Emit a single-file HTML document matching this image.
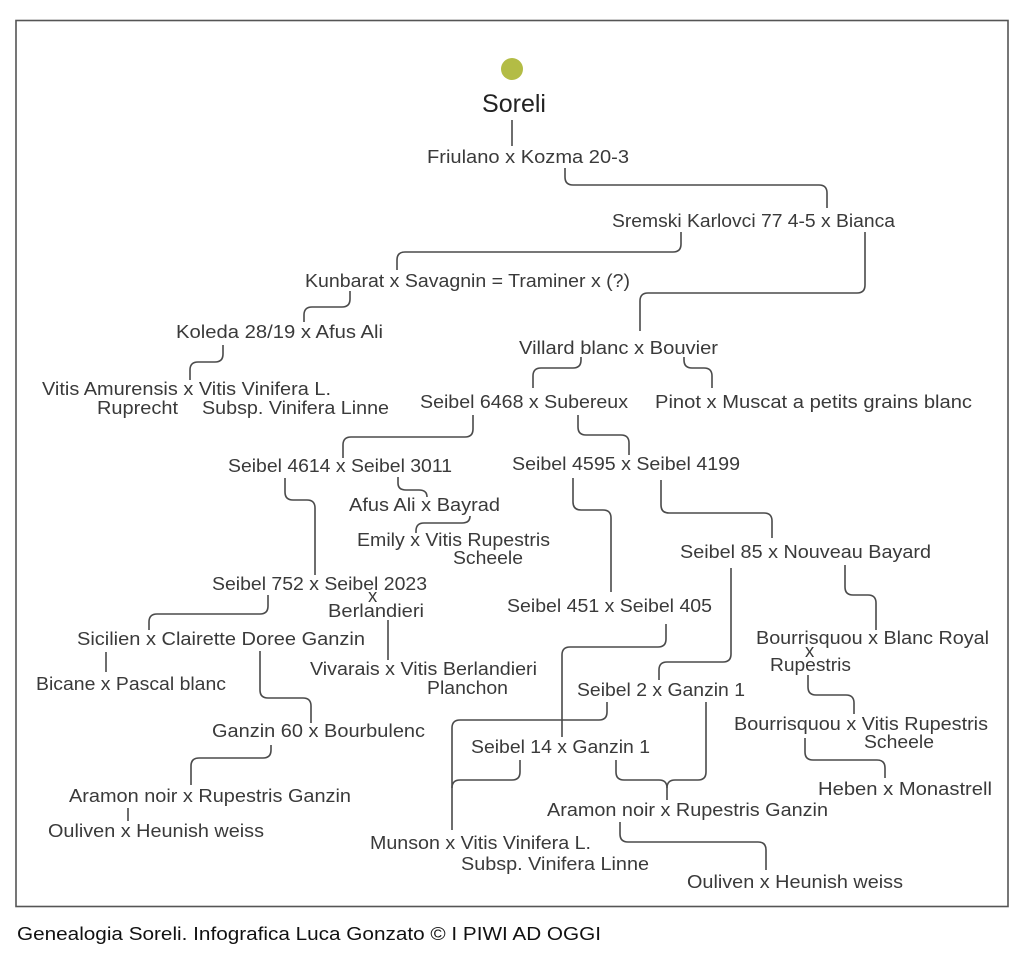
<!DOCTYPE html>
<html><head><meta charset="utf-8"><style>
html,body{margin:0;padding:0;background:#fff;}
svg{display:block;}
text{font-family:"Liberation Sans",sans-serif;fill:#3a3a3a;font-size:18.5px;}
path{fill:none;stroke:#4a4a4a;stroke-width:1.6;}
</style></head><body>
<svg width="1024" height="980" viewBox="0 0 1024 980" xmlns="http://www.w3.org/2000/svg">
<rect x="16" y="20.5" width="992" height="886" fill="none" stroke="#555" stroke-width="1.6"/>
<circle cx="512" cy="69" r="11" fill="#b3bc45"/>
<text x="482" y="112" textLength="64" lengthAdjust="spacingAndGlyphs" style="font-size:25px;fill:#222">Soreli</text>

<g>
<text x="427" y="163" textLength="202" lengthAdjust="spacingAndGlyphs">Friulano x Kozma 20-3</text>
<text x="612" y="227" textLength="283" lengthAdjust="spacingAndGlyphs">Sremski Karlovci 77 4-5 x Bianca</text>
<text x="305" y="287" textLength="325" lengthAdjust="spacingAndGlyphs">Kunbarat x Savagnin = Traminer x (?)</text>
<text x="176" y="338" textLength="207" lengthAdjust="spacingAndGlyphs">Koleda 28/19 x Afus Ali</text>
<text x="42" y="395" textLength="289" lengthAdjust="spacingAndGlyphs">Vitis Amurensis x Vitis Vinifera L.</text>
<text x="97" y="414" textLength="81" lengthAdjust="spacingAndGlyphs">Ruprecht</text>
<text x="202" y="414" textLength="187" lengthAdjust="spacingAndGlyphs">Subsp. Vinifera Linne</text>
<text x="519" y="354" textLength="199" lengthAdjust="spacingAndGlyphs">Villard blanc x Bouvier</text>
<text x="420" y="408" textLength="208" lengthAdjust="spacingAndGlyphs">Seibel 6468 x Subereux</text>
<text x="655" y="408" textLength="317" lengthAdjust="spacingAndGlyphs">Pinot x Muscat a petits grains blanc</text>
<text x="228" y="472" textLength="224" lengthAdjust="spacingAndGlyphs">Seibel 4614 x Seibel 3011</text>
<text x="512" y="470" textLength="228" lengthAdjust="spacingAndGlyphs">Seibel 4595 x Seibel 4199</text>
<text x="349" y="511" textLength="151" lengthAdjust="spacingAndGlyphs">Afus Ali x Bayrad</text>
<text x="357" y="546" textLength="193" lengthAdjust="spacingAndGlyphs">Emily x Vitis Rupestris</text>
<text x="453" y="564" textLength="70" lengthAdjust="spacingAndGlyphs">Scheele</text>
<text x="680" y="558" textLength="251" lengthAdjust="spacingAndGlyphs">Seibel 85 x Nouveau Bayard</text>
<text x="212" y="590" textLength="215" lengthAdjust="spacingAndGlyphs">Seibel 752 x Seibel 2023</text>
<text x="368" y="602">x</text>
<text x="328" y="617" textLength="96" lengthAdjust="spacingAndGlyphs">Berlandieri</text>
<text x="507" y="612" textLength="205" lengthAdjust="spacingAndGlyphs">Seibel 451 x Seibel 405</text>
<text x="77" y="645" textLength="288" lengthAdjust="spacingAndGlyphs">Sicilien x Clairette Doree Ganzin</text>
<text x="756" y="644" textLength="233" lengthAdjust="spacingAndGlyphs">Bourrisquou x Blanc Royal</text>
<text x="805" y="657">x</text>
<text x="770" y="671" textLength="81" lengthAdjust="spacingAndGlyphs">Rupestris</text>
<text x="310" y="675" textLength="227" lengthAdjust="spacingAndGlyphs">Vivarais x Vitis Berlandieri</text>
<text x="427" y="694" textLength="81" lengthAdjust="spacingAndGlyphs">Planchon</text>
<text x="36" y="690" textLength="190" lengthAdjust="spacingAndGlyphs">Bicane x Pascal blanc</text>
<text x="577" y="696" textLength="168" lengthAdjust="spacingAndGlyphs">Seibel 2 x Ganzin 1</text>
<text x="734" y="730" textLength="254" lengthAdjust="spacingAndGlyphs">Bourrisquou x Vitis Rupestris</text>
<text x="864" y="748" textLength="70" lengthAdjust="spacingAndGlyphs">Scheele</text>
<text x="212" y="737" textLength="213" lengthAdjust="spacingAndGlyphs">Ganzin 60 x Bourbulenc</text>
<text x="471" y="753" textLength="179" lengthAdjust="spacingAndGlyphs">Seibel 14 x Ganzin 1</text>
<text x="69" y="802" textLength="282" lengthAdjust="spacingAndGlyphs">Aramon noir x Rupestris Ganzin</text>
<text x="818" y="795" textLength="174" lengthAdjust="spacingAndGlyphs">Heben x Monastrell</text>
<text x="547" y="816" textLength="281" lengthAdjust="spacingAndGlyphs">Aramon noir x Rupestris Ganzin</text>
<text x="48" y="837" textLength="216" lengthAdjust="spacingAndGlyphs">Ouliven x Heunish weiss</text>
<text x="370" y="849" textLength="221" lengthAdjust="spacingAndGlyphs">Munson x Vitis Vinifera L.</text>
<text x="461" y="870" textLength="188" lengthAdjust="spacingAndGlyphs">Subsp. Vinifera Linne</text>
<text x="687" y="888" textLength="216" lengthAdjust="spacingAndGlyphs">Ouliven x Heunish weiss</text>
</g>
<text x="17" y="940" textLength="584" lengthAdjust="spacingAndGlyphs" style="fill:#111;font-size:18px">Genealogia Soreli. Infografica Luca Gonzato © I PIWI AD OGGI</text>

<path d="M512,120 V146"/>
<path d="M565,168 V177 Q565,185 573,185 H819 Q827,185 827,193 V208"/>
<path d="M681,232 V244 Q681,252 673,252 H405 Q397,252 397,260 V270"/>
<path d="M865,232 V285 Q865,293 857,293 H648 Q640,293 640,301 V331"/>
<path d="M350,291 V299 Q350,307 342,307 H312 Q304,307 304,315 V322"/>
<path d="M223,345 V354 Q223,362 215,362 H198 Q190,362 190,370 V380"/>
<path d="M581,357 V360 Q581,368 573,368 H541 Q533,368 533,376 V388"/>
<path d="M684,357 V360 Q684,368 692,368 H704 Q712,368 712,376 V388"/>
<path d="M473,415 V429 Q473,437 465,437 H351 Q343,437 343,445 V458"/>
<path d="M578,415 V427 Q578,435 586,435 H621 Q629,435 629,443 V455"/>
<path d="M398,477 V483 Q398,490 406,490 H419 Q427,490 427,497"/>
<path d="M285,478 V492 Q285,500 293,500 H307 Q315,500 315,508 V575"/>
<path d="M470,517 V516 Q470,523 462,523 H424 Q416,523 416,531 V533"/>
<path d="M573,478 V502 Q573,510 581,510 H603 Q611,510 611,518 V592"/>
<path d="M661,480 V505 Q661,513 669,513 H764 Q772,513 772,521 V538"/>
<path d="M268,595 V606 Q268,614 260,614 H157 Q149,614 149,622 V630"/>
<path d="M388,620 V660"/>
<path d="M106,652 V672"/>
<path d="M260,651 V690 Q260,698 268,698 H303 Q311,698 311,706 V723"/>
<path d="M271,745 V750 Q271,758 263,758 H199 Q191,758 191,766 V785"/>
<path d="M128,808 V821"/>
<path d="M731,568 V654 Q731,662 723,662 H667 Q659,662 659,670 V680"/>
<path d="M845,565 V587 Q845,595 853,595 H868 Q876,595 876,603 V630"/>
<path d="M666,624 V639 Q666,647 658,647 H570 Q562,647 562,655 V737"/>
<path d="M607,702 V712 Q607,720 599,720 H460 Q452,720 452,728 V830"/>
<path d="M520,760 V772 Q520,780 512,780 H460 Q452,780 452,788"/>
<path d="M616,760 V772 Q616,780 624,780 H659 Q667,780 667,788 V800"/>
<path d="M706,702 V772 Q706,780 698,780 H675 Q667,780 667,788"/>
<path d="M620,822 V834 Q620,842 628,842 H758 Q766,842 766,850 V870"/>
<path d="M808,675 V687 Q808,695 816,695 H846 Q854,695 854,703 V714"/>
<path d="M805,738 V752 Q805,760 813,760 H877 Q885,760 885,768 V778"/>
</svg>
</body></html>
